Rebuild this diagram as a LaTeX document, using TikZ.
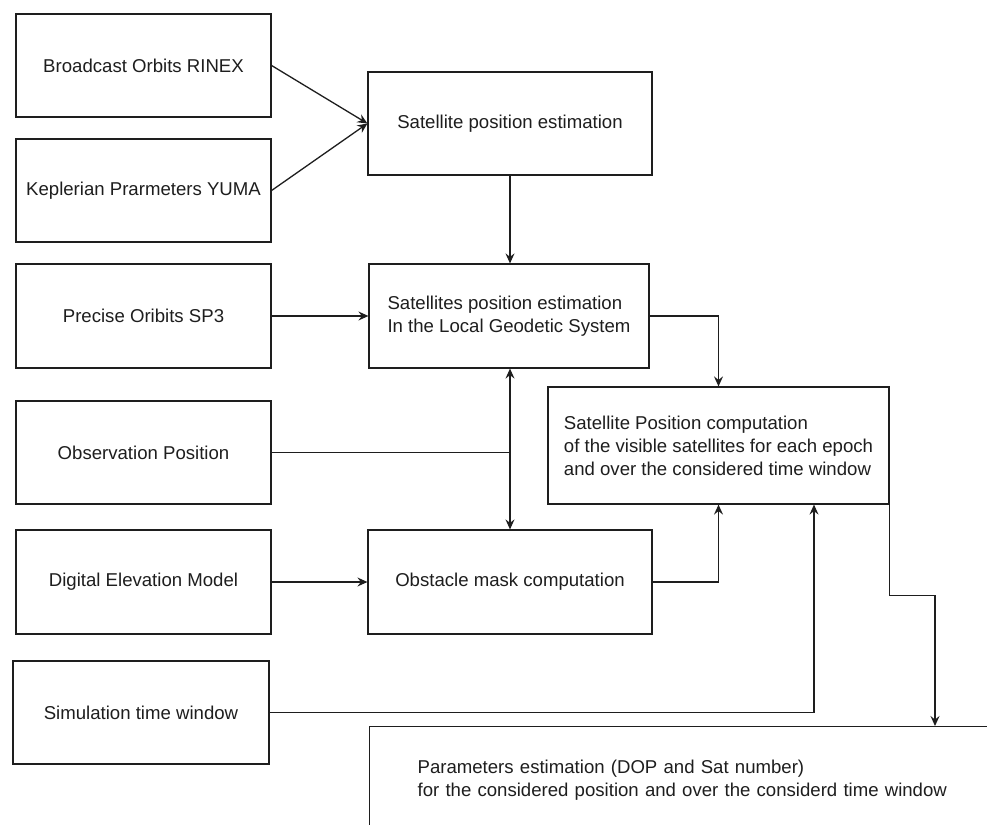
\documentclass[tikz,border=0pt]{standalone}
\usepackage{fontspec}
\setmainfont{Liberation Sans}
\usetikzlibrary{arrows.meta}
\definecolor{ink}{RGB}{30,30,30}
\begin{document}
\begin{tikzpicture}[x=1pt,y=-1pt,
  box/.style={draw=ink, line width=1.2pt, inner sep=0pt, text=ink,
    font=\fontsize{18.6}{23}\selectfont, align=center},
  lbox/.style={box, align=left},
  conn/.style={draw=ink, line width=1.3pt},
  tip/.tip={Stealth[length=10pt,width=9pt,inset=3.5pt]},
  arr/.style={conn, -tip},
]
\useasboundingbox (0,0) rectangle (987,824);
\clip (0,0) rectangle (987,824);
\fill[white] (0,0) rectangle (987,824);

% left column
\node[box, minimum width=255, minimum height=103] (b1)  at (143.5,65.5) {Broadcast Orbits RINEX};
\node[box, minimum width=255, minimum height=103] (b2)  at (143.5,190.5) {Keplerian Prarmeters YUMA};
\node[box, minimum width=255, minimum height=104] (sp3) at (143.5,316) {Precise Oribits SP3};
\node[box, minimum width=255, minimum height=103] (obs) at (143.5,452.5) {Observation Position};
\node[box, minimum width=255, minimum height=104] (dem) at (143.5,582) {Digital Elevation Model};
\node[box, minimum width=256, minimum height=103] (sim) at (141,712.5) {Simulation time window};

% middle column
\node[box, minimum width=284, minimum height=103] (sat)  at (510,123.5) {Satellite position estimation};
\node[lbox, minimum width=280, minimum height=104] (lgs)  at (509,316) {Satellites position estimation\\In the Local Geodetic System};
\node[box, minimum width=284, minimum height=104] (obst) at (510,582) {Obstacle mask computation};

% right
\node[lbox, minimum width=341, minimum height=117] (comp) at (718.5,445.5) {Satellite Position computation\\of the visible satellites for each epoch\\and over the considered time window};

\node[lbox, anchor=north west, text width=600, inner xsep=48, inner ysep=0pt, minimum height=107] (param) at (369,726)
  {Parameters estimation (DOP and Sat number)\\for the considered position and over the considerd time window};

% connectors
\draw[arr] (b1.east) -- (sat.west);
\draw[arr] (b2.east) -- (sat.west);
\draw[arr] (sat.south) -- (sat.south |- lgs.north);
\draw[arr] (sp3.east) -- (lgs.west);
\draw[arr] (lgs.east) -| (comp.north);
\draw[conn, tip-tip] (sat.south |- lgs.south) -- (obst.north);
\coordinate (j) at (obst.north |- obs.east);
\draw[conn] (obs.east) -- (j);
\draw[arr] (dem.east) -- (obst.west);
\draw[arr] (obst.east) -| (comp.south);
\draw[arr] (sim.east) -| ([xshift=95.5pt]comp.south);
\coordinate (k) at ([yshift=-91pt]comp.south east);
\draw[arr] (comp.south east) -- (k) -| ([xshift=566pt]param.north west);
\end{tikzpicture}
\end{document}
